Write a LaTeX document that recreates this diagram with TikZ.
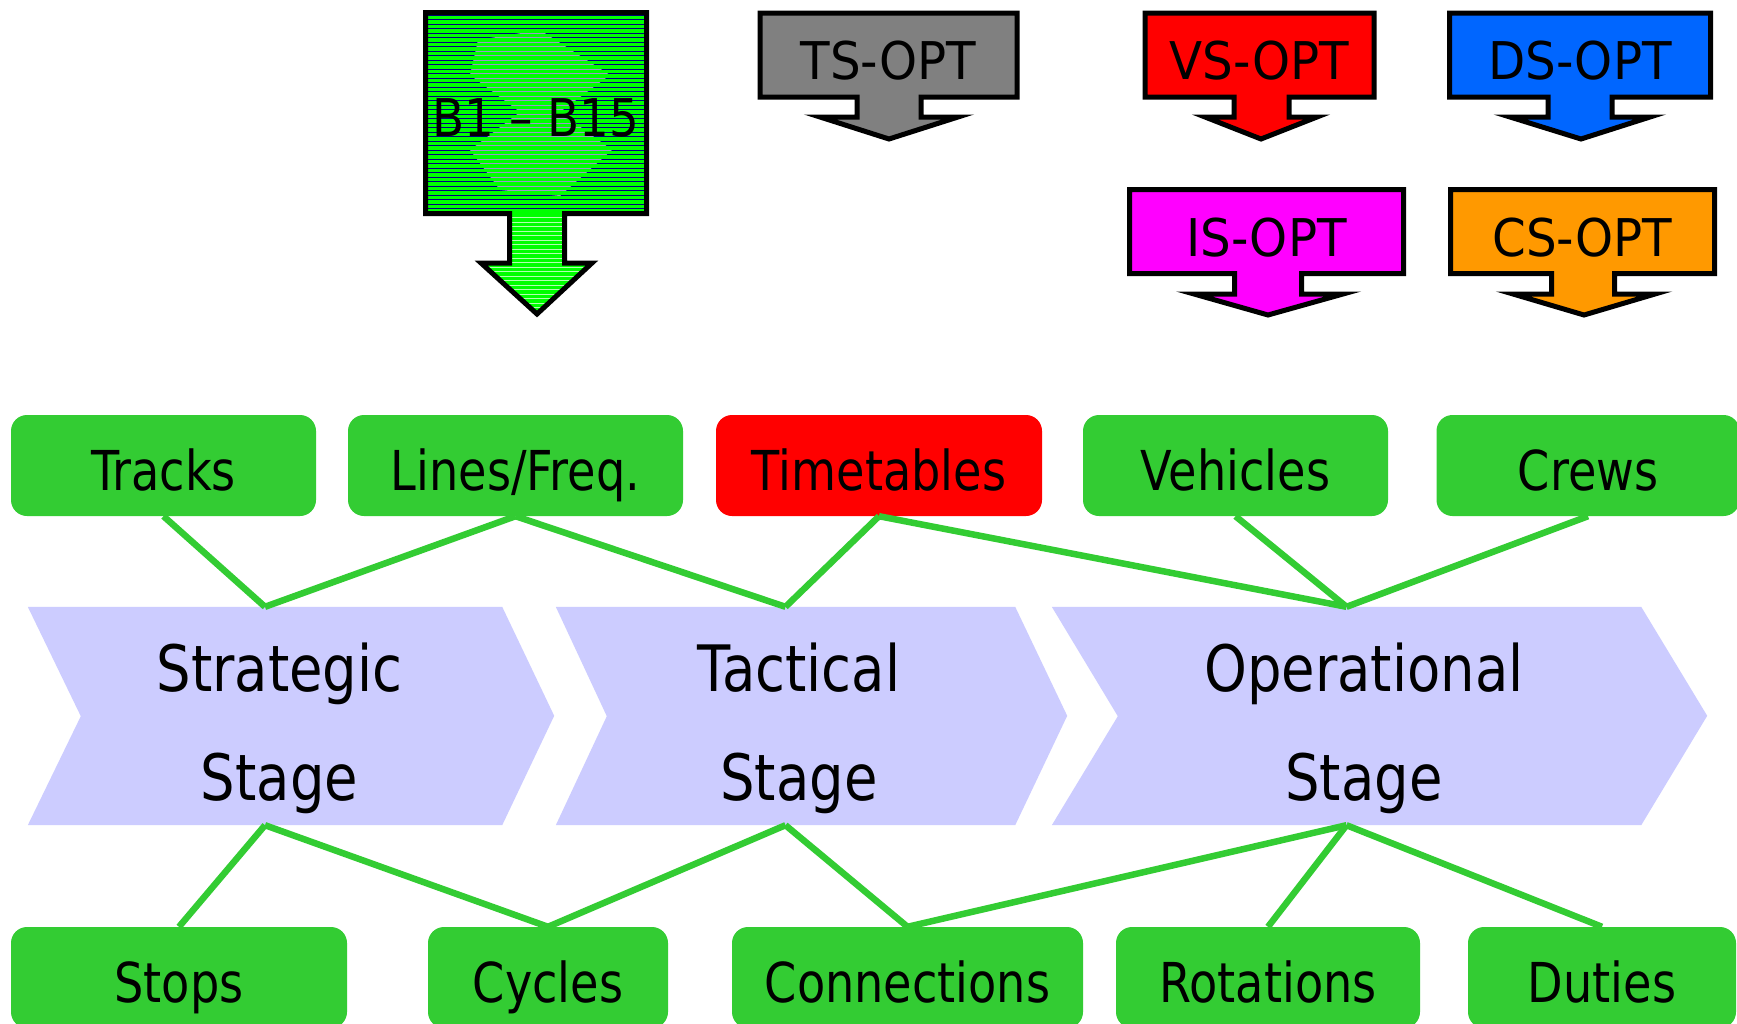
\documentclass[tikz,border=0pt]{standalone}
\usepackage{fontspec}
\setmainfont{DejaVu Sans}
\newfontfamily\boxfont{DejaVu Sans}[FakeStretch=0.84]
\newfontfamily\optfont{DejaVu Sans}[FakeStretch=0.93]
\newfontfamily\bfifont{DejaVu Sans}[FakeStretch=0.9]
\newfontfamily\stagefont{DejaVu Sans}[FakeStretch=0.85]

\definecolor{boxgreen}{HTML}{33CC33}
\definecolor{ttred}{HTML}{FF0000}
\definecolor{stagefill}{HTML}{CCCCFF}
\definecolor{tsgray}{HTML}{808080}
\definecolor{ismag}{HTML}{FF00FF}
\definecolor{dsblue}{HTML}{0066FF}
\definecolor{csorange}{HTML}{FF9900}
\definecolor{bgreen}{HTML}{00FF00}
\definecolor{hatch}{HTML}{000080}

\tikzset{
  infobox/.style={rounded corners=16pt, fill=boxgreen, minimum height=101pt,
    inner sep=0pt, text height=49pt, text depth=0pt,
    font=\boxfont\fontsize{55pt}{60pt}\selectfont},
  link/.style={draw=boxgreen, line width=6.5pt},
  stagebox/.style={minimum height=218pt, inner sep=0pt},
  stagechev/.style={fill=stagefill},
  stagetext/.style={font=\stagefont\fontsize{64pt}{70pt}\selectfont,
    inner sep=0pt, anchor=base},
  callout/.style={draw=black, line width=5pt, line join=miter, miter limit=10},
  opttext/.style={font=\optfont\fontsize{52pt}{56pt}\selectfont,
    inner sep=0pt, text height=49pt, text depth=0pt},
}

\begin{document}
\begin{tikzpicture}[x=1pt, y=-1pt]
\useasboundingbox (0,0) rectangle (1737,1023);
\clip (0,0) rectangle (1737,1023);
\fill[white] (0,0) rectangle (1737,1023);

% ---------- B1 - B15 callout with line hatching ----------
\begin{scope}
  \clip (425.5,12.5) -- (646.5,12.5) -- (646.5,213.5) -- (564.5,213.5) -- (564.5,263)
    -- (592,263) -- (537,314) -- (481,263) -- (509.5,263) -- (509.5,213.5)
    -- (425.5,213.5) -- cycle;
  \fill[bgreen] (400,0) rectangle (680,330);
  \foreach \y in {15,19.5,...,212} \draw[hatch, line width=0.7pt] (420,\y) -- (650,\y);
  % faint light emblem inside the hatching
  \begin{scope}
    \clip (478,40) -- (540,30) -- (610,75) -- (560,112) -- (612,150) -- (560,196)
      -- (500,190) -- (470,150) -- (520,112) -- (470,75) -- cycle;
    \foreach \y in {15,19.5,...,212} \draw[white, opacity=0.6, line width=1pt] (420,\y) -- (650,\y);
  \end{scope}
  \foreach \y in {217.5,222,...,318} \draw[white, opacity=0.7, line width=0.9pt] (470,\y) -- (600,\y);
\end{scope}
\draw[callout] (425.5,12.5) -- (646.5,12.5) -- (646.5,213.5) -- (564.5,213.5) -- (564.5,263)
    -- (592,263) -- (537,314) -- (481,263) -- (509.5,263) -- (509.5,213.5)
    -- (425.5,213.5) -- cycle;
\node[opttext, font=\bfifont\fontsize{52pt}{56pt}\selectfont] (bopt) at (536,111.5) {B1 – B15};

% ---------- optimisation callouts ----------
\draw[callout, fill=tsgray] (760,13) -- (1017,13) -- (1017,97) -- (921,97) -- (921,117)
  -- (958,117) -- (889,139) -- (820,117) -- (857,117) -- (857,97) -- (760,97) -- cycle;
\node[opttext] (tsopt) at (888.5,55) {TS-OPT};

\draw[callout, fill=ttred] (1145,13) -- (1374,13) -- (1374,97) -- (1289,97) -- (1289,117)
  -- (1317,117) -- (1261,139) -- (1205,117) -- (1234,117) -- (1234,97) -- (1145,97) -- cycle;
\node[opttext] (vsopt) at (1259.5,55) {VS-OPT};

\draw[callout, fill=dsblue] (1449.5,13) -- (1710.5,13) -- (1710.5,97) -- (1612,97) -- (1612,117)
  -- (1650,117) -- (1581,139) -- (1510,117) -- (1548,117) -- (1548,97) -- (1449.5,97) -- cycle;
\node[opttext] (dsopt) at (1580,55) {DS-OPT};

\draw[callout, fill=ismag] (1129.5,189.5) -- (1403.5,189.5) -- (1403.5,273.5) -- (1301.5,273.5)
  -- (1301.5,294) -- (1343,294) -- (1268,315) -- (1194,294) -- (1234.5,294) -- (1234.5,273.5)
  -- (1129.5,273.5) -- cycle;
\node[opttext] (isopt) at (1266.5,231.5) {IS-OPT};

\draw[callout, fill=csorange] (1450.5,189.5) -- (1714.5,189.5) -- (1714.5,273.5) -- (1614.5,273.5)
  -- (1614.5,294) -- (1655,294) -- (1584,315) -- (1513,294) -- (1551.5,294) -- (1551.5,273.5)
  -- (1450.5,273.5) -- cycle;
\node[opttext] (csopt) at (1582.5,231.5) {CS-OPT};

% ---------- planning stages ----------
\node[stagebox, minimum width=474pt] (strat) at (265,716) {};
\node[stagebox, minimum width=459pt] (tact) at (785.5,716) {};
\node[stagebox, minimum width=589pt] (oper) at (1346.5,716) {};

\fill[stagechev] (strat.north west) -- (strat.north east) -- ++(52,109) -- (strat.south east)
  -- (strat.south west) -- ++(53,-109) -- cycle;
\fill[stagechev] (tact.north west) -- (tact.north east) -- ++(52,109) -- (tact.south east)
  -- (tact.south west) -- ++(51,-109) -- cycle;
\fill[stagechev] (oper.north west) -- (oper.north east) -- ++(66,109) -- (oper.south east)
  -- (oper.south west) -- ++(66,-109) -- cycle;

\node[stagetext] (strat1) at (279.5,691) {Strategic};
\node[stagetext] (strat2) at (279.5,800) {Stage};
\node[stagetext] (tact1) at (799,691) {Tactical};
\node[stagetext] (tact2) at (799,800) {Stage};
\node[stagetext] (oper1) at (1364,691) {Operational};
\node[stagetext] (oper2) at (1364,800) {Stage};

% ---------- resource boxes ----------
\node[infobox, minimum width=305pt] (tracks) at (163.5,465.5) {Tracks};
\node[infobox, minimum width=335pt] (lines) at (515.5,465.5) {Lines/Freq.};
\node[infobox, minimum width=326pt, fill=ttred] (timetab) at (879,465.5) {Timetables};
\node[infobox, minimum width=305pt] (vehicles) at (1235.5,465.5) {Vehicles};
\node[infobox, minimum width=303pt] (crews) at (1588,465.5) {Crews};

\node[infobox, minimum width=336pt] (stops) at (179,977.5) {Stops};
\node[infobox, minimum width=240pt] (cycles) at (548,977.5) {Cycles};
\node[infobox, minimum width=351pt] (conns) at (907.5,977.5) {Connections};
\node[infobox, minimum width=304pt] (rots) at (1268,977.5) {Rotations};
\node[infobox, minimum width=268pt] (duties) at (1602,977.5) {Duties};

% ---------- links ----------
\draw[link] (tracks.south) -- (strat.north);
\draw[link] (lines.south) -- (strat.north);
\draw[link] (lines.south) -- (tact.north);
\draw[link] (timetab.south) -- (tact.north);
\draw[link] (timetab.south) -- (oper.north);
\draw[link] (vehicles.south) -- (oper.north);
\draw[link] (crews.south) -- (oper.north);

\draw[link] (strat.south) -- (stops.north);
\draw[link] (strat.south) -- (cycles.north);
\draw[link] (tact.south) -- (cycles.north);
\draw[link] (tact.south) -- (conns.north);
\draw[link] (oper.south) -- (conns.north);
\draw[link] (oper.south) -- (rots.north);
\draw[link] (oper.south) -- (duties.north);
\end{tikzpicture}
\end{document}
